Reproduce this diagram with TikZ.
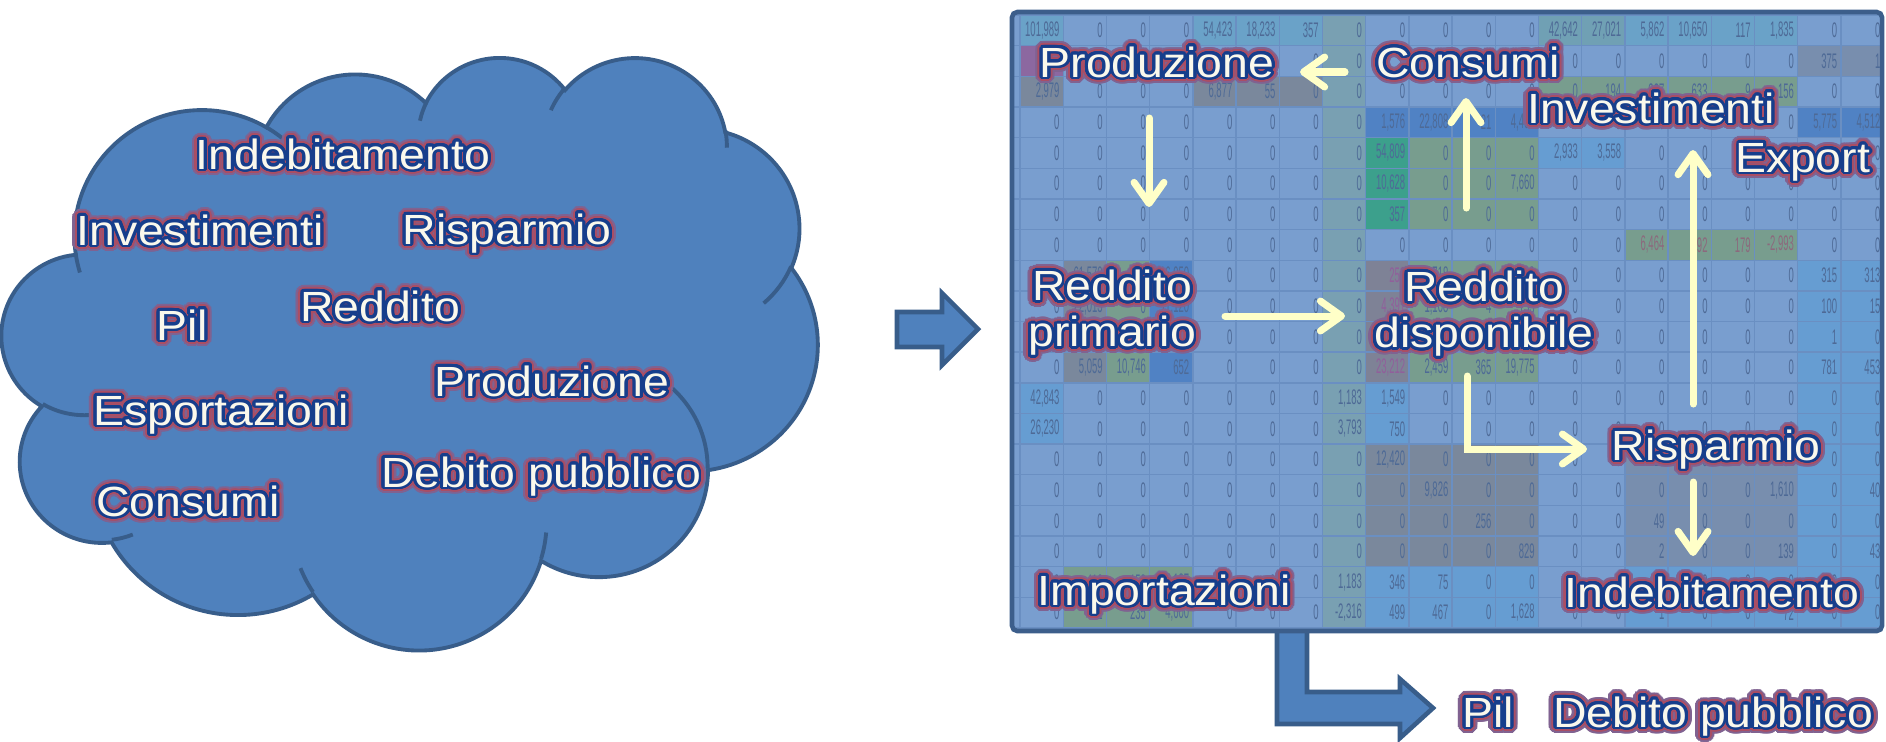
\documentclass[tikz,border=0pt]{standalone}
\usepackage{fontspec}
\setmainfont{Liberation Sans}
\usepackage{graphicx}
\usepackage{contour}
\usetikzlibrary{arrows.meta}
\contournumber{32}

\definecolor{cloudfill}{RGB}{79,129,189}
\definecolor{cloudline}{RGB}{56,93,138}
\definecolor{framec}{RGB}{60,94,139}
\definecolor{cbase}{RGB}{121,158,207}
\definecolor{cgrid}{RGB}{106,143,194}
\definecolor{ccol}{RGB}{121,160,178}
\definecolor{cteal}{RGB}{106,162,200}
\definecolor{cteal2}{RGB}{112,160,180}
\definecolor{cpurp}{RGB}{140,104,160}
\definecolor{cgrey}{RGB}{122,136,156}
\definecolor{cgreyp}{RGB}{126,130,150}
\definecolor{cgg}{RGB}{120,157,142}
\definecolor{cgreen}{RGB}{60,160,140}
\definecolor{cdblue}{RGB}{80,130,196}
\definecolor{clblue}{RGB}{102,157,210}
\definecolor{cgblue}{RGB}{120,142,174}
\definecolor{numc}{RGB}{78,106,150}
\definecolor{numpurp}{RGB}{145,95,155}
\definecolor{numred}{RGB}{140,105,125}
\definecolor{txtcream}{RGB}{250,248,236}
\definecolor{txtblue}{RGB}{22,62,140}
\definecolor{glowA}{RGB}{170,78,100}
\definecolor{glowB}{RGB}{128,98,145}
\definecolor{arrowc}{RGB}{255,255,200}

\newcommand\fxlabel[1]{\scalebox{1.1}[1]{%
  \contourlength{1.9pt}\rlap{\color{glowB}\contour{glowB}{#1}}%
  \contourlength{1.3pt}\rlap{\color{glowA}\contour{glowA}{#1}}%
  \contourlength{0.75pt}{\color{txtcream}\contour{txtblue}{#1}}}}

\newcommand\setcloudarc[5]{%
  \pgfmathsetmacro\cloudtmpa{atan2((#2)*sin(#4),(#3)*cos(#4))}%
  \pgfmathsetmacro\cloudtmpb{atan2((#2)*sin((#4)+(#5)),(#3)*cos((#4)+(#5)))}%
  \pgfmathsetmacro\cloudtmpd{\cloudtmpb-\cloudtmpa}%
  \pgfmathsetmacro\cloudtmpd{ifthenelse((#5)>0,ifthenelse(\cloudtmpd<0,\cloudtmpd+360,\cloudtmpd),ifthenelse(\cloudtmpd>0,\cloudtmpd-360,\cloudtmpd))}%
  \expandafter\let\csname cloudS#1\endcsname\cloudtmpa
  \expandafter\let\csname cloudD#1\endcsname\cloudtmpd
}

\newcommand\cellblock[5]{\fill[#1] ({1020+43.2*(#2)},{15+30.65*(#4)}) rectangle ({1020+43.2*((#3)+1)},{15+30.65*((#5)+1)});}

\tikzset{
  lbl/.style={inner sep=0pt, font=\fontsize{12}{13.1}\selectfont},
  numstyle/.style={anchor=east, inner sep=0pt, font=\fontsize{6}{6}\selectfont},
  flowarrow/.style={draw=arrowc, line width=2pt, line cap=round,
    -{Straight Barb[length=6pt,width=8.5pt,round]}},
  blockarrow/.style={fill=cloudfill, draw=cloudline, line width=1.3pt, line join=miter},
  cloudedge/.style={draw=cloudline, line width=1.1pt}
}

\begin{document}
\begin{tikzpicture}[x=0.01cm, y=-0.01cm]
\useasboundingbox (0,0) rectangle (1886,741);
\fill[white] (0,0) rectangle (1886,741);

% ---------------- cloud ----------------
\setcloudarc{a}{67.53}{91.90}{-190.4875}{123.7805}
\setcloudarc{b}{53.33}{72.67}{-144.1024}{89.9452}
\setcloudarc{c}{43.65}{59.45}{-145.8079}{99.7230}
\setcloudarc{d}{48.57}{65.95}{-130.9861}{117.2417}
\setcloudarc{e}{53.33}{72.73}{-78.7089}{109.0269}
\setcloudarc{f}{67.75}{92.20}{-46.2673}{130.2690}
\setcloudarc{g}{57.85}{78.67}{0.6250}{114.0333}
\setcloudarc{h}{67.52}{92.15}{22.4516}{115.1726}
\setcloudarc{i}{77.20}{105.43}{66.2426}{75.7110}
\setcloudarc{j}{43.60}{59.18}{-274.9421}{146.7356}
\setcloudarc{k}{43.45}{59.45}{-246.8285}{152.5189}
\setcloudarc{l}{43.45}{59.45}{86.7420}{26.4295}
\setcloudarc{m}{43.60}{59.18}{73.6105}{11.4475}
\setcloudarc{n}{67.52}{92.15}{137.6242}{14.0811}
\setcloudarc{o}{67.52}{92.15}{6.4533}{15.9984}
\setcloudarc{p}{57.85}{78.67}{-70.2924}{70.9174}
\setcloudarc{q}{53.33}{72.73}{30.3180}{27.7515}
\setcloudarc{r}{48.57}{65.95}{-13.7443}{14.8589}
\setcloudarc{s}{48.57}{65.95}{-149.1815}{18.1954}
\setcloudarc{t}{43.65}{59.45}{-163.4943}{17.6864}
\setcloudarc{u}{67.53}{91.90}{-66.7070}{12.3194}
\setcloudarc{v}{67.53}{91.90}{157.6544}{11.8582}

\begin{scope}[shift={(2,56)}, x=1pt, y=1pt, xscale=0.53677, yscale=-0.38991]
\draw[cloudedge, fill=cloudfill] (39.00,143.70)
  arc[x radius=67.53pt, y radius=91.90pt, start angle=\cloudSa, delta angle=\cloudDa]
  arc[x radius=53.33pt, y radius=72.67pt, start angle=\cloudSb, delta angle=\cloudDb]
  arc[x radius=43.65pt, y radius=59.45pt, start angle=\cloudSc, delta angle=\cloudDc]
  arc[x radius=48.57pt, y radius=65.95pt, start angle=\cloudSd, delta angle=\cloudDd]
  arc[x radius=53.33pt, y radius=72.73pt, start angle=\cloudSe, delta angle=\cloudDe]
  arc[x radius=67.75pt, y radius=92.20pt, start angle=\cloudSf, delta angle=\cloudDf]
  arc[x radius=57.85pt, y radius=78.67pt, start angle=\cloudSg, delta angle=\cloudDg]
  arc[x radius=67.52pt, y radius=92.15pt, start angle=\cloudSh, delta angle=\cloudDh]
  arc[x radius=77.20pt, y radius=105.43pt, start angle=\cloudSi, delta angle=\cloudDi]
  arc[x radius=43.60pt, y radius=59.18pt, start angle=\cloudSj, delta angle=\cloudDj]
  arc[x radius=43.45pt, y radius=59.45pt, start angle=\cloudSk, delta angle=\cloudDk]
  -- cycle;
\draw[cloudedge]
  (46.93,261.77) arc[x radius=43.45pt, y radius=59.45pt, start angle=\cloudSl, delta angle=\cloudDl]
  (69.28,348.99) arc[x radius=43.60pt, y radius=59.18pt, start angle=\cloudSm, delta angle=\cloudDm]
  (164.78,390.90) arc[x radius=67.52pt, y radius=92.15pt, start angle=\cloudSn, delta angle=\cloudDn]
  (288.27,347.51) arc[x radius=67.52pt, y radius=92.15pt, start angle=\cloudSo, delta angle=\cloudDo]
  (341.29,229.54) arc[x radius=57.85pt, y radius=78.67pt, start angle=\cloudSp, delta angle=\cloudDp]
  (417.98,153.54) arc[x radius=53.33pt, y radius=72.73pt, start angle=\cloudSq, delta angle=\cloudDq]
  (383.24,54.26) arc[x radius=48.57pt, y radius=65.95pt, start angle=\cloudSr, delta angle=\cloudDr]
  (290.78,39.52) arc[x radius=48.57pt, y radius=65.95pt, start angle=\cloudSs, delta angle=\cloudDs]
  (221.41,47.20) arc[x radius=43.65pt, y radius=59.45pt, start angle=\cloudSt, delta angle=\cloudDt]
  (140.00,51.92) arc[x radius=67.53pt, y radius=91.90pt, start angle=\cloudSu, delta angle=\cloudDu]
  (41.27,157.89) arc[x radius=67.53pt, y radius=91.90pt, start angle=\cloudSv, delta angle=\cloudDv];
\end{scope}

% cloud words
\node[lbl, anchor=base] (c-indeb) at (343,169) {\fxlabel{Indebitamento}};
\node[lbl, anchor=base] (c-invest) at (200,245) {\fxlabel{Investimenti}};
\node[lbl, anchor=base] (c-risp) at (507,244) {\fxlabel{Risparmio}};
\node[lbl, anchor=base] (c-redd) at (380,321) {\fxlabel{Reddito}};
\node[lbl, anchor=base] (c-pil) at (182,340) {\fxlabel{Pil}};
\node[lbl, anchor=base] (c-prod) at (552,396) {\fxlabel{Produzione}};
\node[lbl, anchor=base] (c-esport) at (221,425) {\fxlabel{Esportazioni}};
\node[lbl, anchor=base] (c-debito) at (541,487) {\fxlabel{Debito pubblico}};
\node[lbl, anchor=base] (c-consumi) at (188,516) {\fxlabel{Consumi}};

% block arrow cloud -> table
\draw[blockarrow] (897,312) -- (942,312) -- (942,293) -- (978,329) -- (942,365) -- (942,347) -- (897,347) -- cycle;

% bent arrow below the table
\draw[blockarrow] (1277,628) -- (1277,724) -- (1400,724) -- (1400,738) -- (1433,708) -- (1400,679) -- (1400,692) -- (1307,692) -- (1307,628) -- cycle;

% ---------------- table ----------------
\begin{scope}
\clip (1014,14) rectangle (1880,629);
\fill[cbase] (1014,14) rectangle (1880,629);
\cellblock{ccol}{7}{7}{0}{19}
\cellblock{cteal}{0}{0}{0}{0}
\cellblock{cteal}{4}{6}{0}{0}
\cellblock{cteal2}{12}{13}{0}{0}
\cellblock{cteal}{14}{17}{0}{0}
\cellblock{cpurp}{0}{0}{1}{1}
\cellblock{cgblue}{18}{19}{1}{1}
\cellblock{cgrey}{0}{0}{2}{2}
\cellblock{cgrey}{4}{6}{2}{2}
\cellblock{cgg}{12}{17}{2}{2}
\cellblock{cdblue}{8}{11}{3}{3}
\cellblock{cdblue}{18}{19}{3}{3}
\cellblock{cgreen}{8}{8}{4}{6}
\cellblock{cgg}{9}{11}{4}{6}
\cellblock{clblue}{12}{13}{4}{4}
\cellblock{cgg}{14}{17}{7}{7}
\cellblock{cgrey}{1}{1}{8}{11}
\cellblock{cgg}{2}{2}{8}{11}
\cellblock{cdblue}{3}{3}{8}{11}
\cellblock{cgreyp}{8}{8}{8}{11}
\cellblock{cgg}{9}{11}{8}{11}
\cellblock{clblue}{18}{19}{8}{19}
\cellblock{clblue}{0}{0}{12}{13}
\cellblock{clblue}{8}{8}{12}{13}
\cellblock{cgrey}{8}{11}{14}{17}
\cellblock{cgblue}{14}{17}{14}{17}
\cellblock{cgg}{1}{3}{18}{19}
\cellblock{clblue}{8}{11}{18}{19}
\cellblock{clblue}{14}{17}{18}{19}
\foreach \k in {0,...,20} {
  \draw[cgrid, line width=0.4pt] ({1020+43.2*\k},14) -- ({1020+43.2*\k},629);
  \draw[cgrid, line width=0.4pt] (1014,{15+30.65*\k}) -- (1880,{15+30.65*\k});
}
\foreach \rowvals [count=\ri from 0] in {%
 {{101,989},0,0,0,{54,423},{18,233},357,0,0,0,0,0,{42,642},{27,021},{5,862},{10,650},117,{1,835},0,0},%
 {{8,312},0,0,0,0,0,0,0,0,0,0,0,0,0,0,0,0,0,375,1},%
 {{2,979},0,0,0,{6,877},55,0,0,0,0,0,0,0,194,237,633,9,156,0,0},%
 {0,0,0,0,0,0,0,0,{1,576},{22,808},21,{4,402},0,0,0,0,0,0,{5,775},{4,512}},%
 {0,0,0,0,0,0,0,0,{54,809},0,0,0,{2,933},{3,558},0,0,0,0,0,0},%
 {0,0,0,0,0,0,0,0,{10,628},0,0,{7,660},0,0,0,0,0,0,0,0},%
 {0,0,0,0,0,0,0,0,357,0,0,0,0,0,0,0,0,0,0,0},%
 {0,0,0,0,0,0,0,0,0,0,0,0,0,0,{6,464},92,179,{-2,993},0,0},%
 {0,{61,570},0,{16,950},0,0,0,0,258,{9,718},106,{20,690},0,0,0,0,0,0,315,313},%
 {0,{22,013},0,{11,120},0,0,0,0,{4,391},{1,108},4,133,0,0,0,0,0,0,100,15},%
 {0,477,0,79,0,0,0,0,0,185,0,0,0,0,0,0,0,0,1,0},%
 {0,{5,059},{10,746},652,0,0,0,0,{23,212},{2,459},365,{19,775},0,0,0,0,0,0,781,453},%
 {{42,843},0,0,0,0,0,0,{1,183},{1,549},0,0,0,0,0,0,0,0,0,0,0},%
 {{26,230},0,0,0,0,0,0,{3,793},750,0,0,0,0,0,0,0,0,0,0,0},%
 {0,0,0,0,0,0,0,0,{12,420},0,0,0,0,0,16,0,0,134,0,0},%
 {0,0,0,0,0,0,0,0,0,{9,826},0,0,0,0,0,0,0,{1,610},0,40},%
 {0,0,0,0,0,0,0,0,0,0,256,0,0,0,49,0,0,0,0,0},%
 {0,0,0,0,0,0,0,0,0,0,0,829,0,0,2,0,0,139,0,43},%
 {0,416,158,{5,187},0,0,0,{1,183},346,75,0,0,0,0,0,0,0,0,0,0},%
 {0,451,235,{4,600},0,0,0,{-2,316},499,467,0,{1,628},0,0,1,0,0,72,0,0}%
}{%
  \foreach \v [count=\ci from 0] in \rowvals {
    \def\ncol{numc}%
    \ifnum\ci=8 \ifnum\ri>7 \ifnum\ri<12 \def\ncol{numpurp}\fi\fi\fi
    \ifnum\ri=7 \ifnum\ci>13 \ifnum\ci<18 \def\ncol{numred}\fi\fi\fi
    \node[numstyle, text=\ncol] (n-\ri-\ci) at ({1020+43.2*(\ci+1)-3},{15+30.65*(\ri+0.5)}) {\scalebox{0.45}[1]{\v}};
  }
}
\end{scope}
\draw[framec, line width=1.3pt, rounded corners=1.5pt] (1012,12) rectangle (1882,631);

% ---------------- flow arrows ----------------
\coordinate (a1s) at (1345,72);  \coordinate (a1e) at (1300,72);
\coordinate (a2s) at (1149,118); \coordinate (a2e) at (1149,207);
\coordinate (a3s) at (1466,208); \coordinate (a3e) at (1466,98);
\coordinate (a4s) at (1225,316); \coordinate (a4e) at (1345,316);
\coordinate (a5s) at (1467,376); \coordinate (a5e) at (1587,449);
\coordinate (a6s) at (1693,404); \coordinate (a6e) at (1693,150);
\coordinate (a7s) at (1693,482); \coordinate (a7e) at (1693,556);
\draw[flowarrow] (a1s) -- (a1e);
\draw[flowarrow] (a2s) -- (a2e);
\draw[flowarrow] (a3s) -- (a3e);
\draw[flowarrow] (a4s) -- (a4e);
\draw[flowarrow, line join=miter] (a5s) |- (a5e);
\draw[flowarrow] (a6s) -- (a6e);
\draw[flowarrow] (a7s) -- (a7e);

% ---------------- table words ----------------
\node[lbl, anchor=base] (t-prod) at (1157,77) {\fxlabel{Produzione}};
\node[lbl, anchor=base] (t-cons) at (1468,77) {\fxlabel{Consumi}};
\node[lbl, anchor=base] (t-invest) at (1651,123) {\fxlabel{Investimenti}};
\node[lbl, anchor=base] (t-export) at (1803,172) {\fxlabel{Export}};
\node[lbl, align=center] (t-rp) at (1112,316) {\fxlabel{Reddito}\\\fxlabel{primario}};
\node[lbl, align=center] (t-rd) at (1484,317) {\fxlabel{Reddito}\\\fxlabel{disponibile}};
\node[lbl, anchor=base] (t-risp) at (1716,460) {\fxlabel{Risparmio}};
\node[lbl, anchor=base] (t-import) at (1164,605) {\fxlabel{Importazioni}};
\node[lbl, anchor=base] (t-indeb) at (1712,607) {\fxlabel{Indebitamento}};
\node[lbl, anchor=base] (b-pil) at (1488,727) {\fxlabel{Pil}};
\node[lbl, anchor=base] (b-debito) at (1713,727) {\fxlabel{Debito pubblico}};
\end{tikzpicture}
\end{document}
